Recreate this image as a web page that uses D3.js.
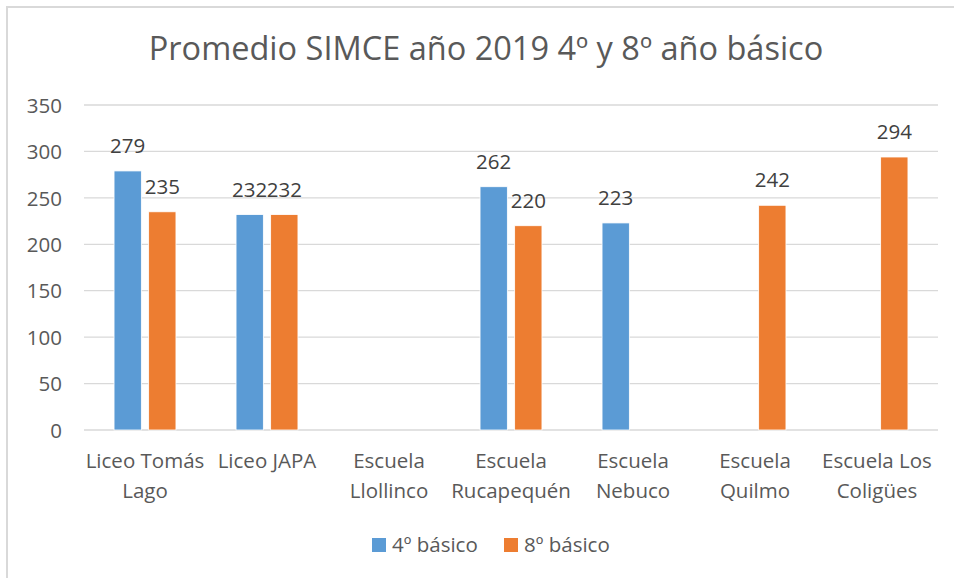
<!DOCTYPE html>
<html>
<head>
<meta charset="utf-8">
<script src="https://cdn.jsdelivr.net/npm/d3@7"></script>
<style>
  html, body { margin: 0; padding: 0; background: #fff; }
  svg { display: block; font-family: "Open Sans", sans-serif; }
</style>
</head>
<body>
<svg id="chart" width="954" height="578"></svg>
<script>
const title = "Promedio SIMCE año 2019 4º y 8º año básico";
const categories = ["Liceo Tomás\nLago", "Liceo JAPA", "Escuela\nLlollinco", "Escuela\nRucapequén", "Escuela\nNebuco", "Escuela\nQuilmo", "Escuela Los\nColigües"];
const seriesNames = ["4º básico", "8º básico"];
const values4 = [279, 232, null, 262, 223, null, null];
const values8 = [235, 232, null, 220, null, 242, 294];
const colors = ["#5B9BD5", "#ED7D31"];
const yTicks = [0, 50, 100, 150, 200, 250, 300, 350];

const seriesValues = [values4, values8];
const svg = d3.select("#chart");
const plot = { left: 84, right: 938, top: 105, bottom: 430 };

// chart border
svg.append("rect").attr("x", 7).attr("y", 7).attr("width", 980).attr("height", 600)
  .attr("fill", "#fff").attr("stroke", "#d9d9d9").attr("stroke-width", 2);

// title
svg.append("text").attr("x", 486).attr("y", 60).attr("text-anchor", "middle")
  .attr("font-size", 32.5).attr("fill", "#595959").text(title);

const x0 = d3.scaleBand().domain(categories).range([plot.left, plot.right]).paddingInner(0).paddingOuter(0);
const x1 = d3.scaleBand().domain(seriesNames).range([0, x0.bandwidth()]).paddingInner(0.211).paddingOuter(0.868);
const y = d3.scaleLinear().domain([0, 350]).range([plot.bottom, plot.top]);

// gridlines
svg.append("g").selectAll("line").data(yTicks).join("line")
  .attr("x1", plot.left).attr("x2", plot.right)
  .attr("y1", d => y(d)).attr("y2", d => y(d))
  .attr("stroke", "#d9d9d9").attr("stroke-width", d => d === 0 ? 1.5 : 1.3);

// y axis labels
const yAxis = d3.axisLeft(y).tickValues(yTicks).tickSize(0).tickPadding(0);
const yg = svg.append("g").attr("transform", `translate(62,0)`).call(yAxis);
yg.select(".domain").remove();
yg.selectAll("text").attr("font-size", 20.5).attr("fill", "#595959")
  .attr("font-family", "Open Sans, sans-serif").attr("dy", "0.35em");

// bars
const barData = [];
categories.forEach((c, i) => {
  seriesNames.forEach((s, j) => {
    const v = seriesValues[j][i];
    if (v != null) barData.push({ c, s, v, j });
  });
});

svg.append("g").selectAll("rect").data(barData).join("rect")
  .attr("x", d => x0(d.c) + x1(d.s))
  .attr("y", d => y(d.v))
  .attr("width", x1.bandwidth())
  .attr("height", d => y(0) - y(d.v))
  .attr("fill", d => colors[d.j])
  .attr("stroke", "#fff").attr("stroke-width", 0.8);

// value labels
svg.append("g").selectAll("text").data(barData).join("text")
  .attr("x", d => x0(d.c) + x1(d.s) + x1.bandwidth() / 2)
  .attr("y", d => y(d.v) - 18)
  .attr("text-anchor", "middle")
  .attr("font-size", 20.5).attr("fill", "#404040")
  .text(d => d.v);

// category labels
const xg = svg.append("g");
categories.forEach(c => {
  const lines = c.split("\n");
  const t = xg.append("text").attr("text-anchor", "middle")
    .attr("font-size", 20.5).attr("fill", "#595959");
  lines.forEach((ln, k) => {
    t.append("tspan").attr("x", x0(c) + x0.bandwidth() / 2).attr("y", 468 + k * 30).text(ln);
  });
});

// legend
const legendItems = [{ name: seriesNames[0], x: 372 }, { name: seriesNames[1], x: 504 }];
const lg = svg.append("g");
legendItems.forEach((it, i) => {
  lg.append("rect").attr("x", it.x).attr("y", 538).attr("width", 14).attr("height", 14).attr("fill", colors[i]);
  lg.append("text").attr("x", it.x + 20).attr("y", 552).attr("font-size", 20.5)
    .attr("fill", "#595959").text(it.name);
});
</script>
</body>
</html>
